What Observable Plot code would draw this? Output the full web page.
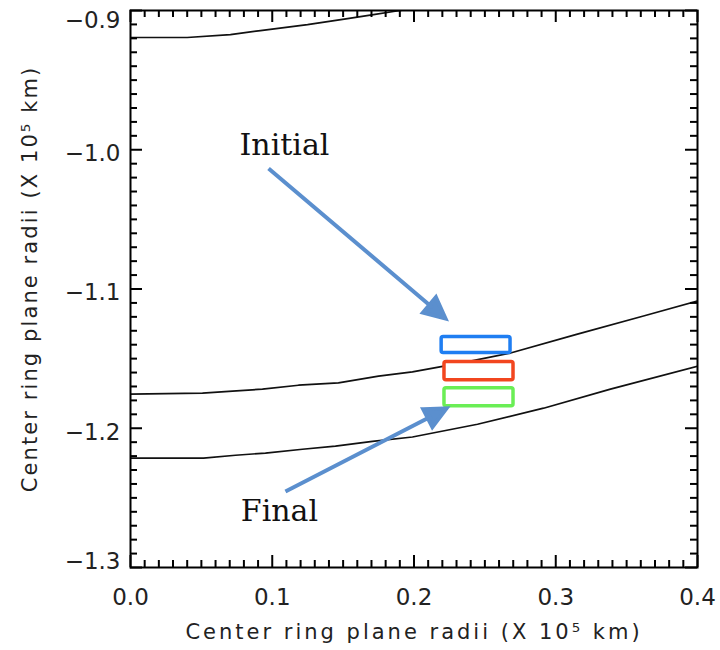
<!DOCTYPE html>
<html><head><meta charset="utf-8">
<script src="https://cdn.jsdelivr.net/npm/d3@7"></script>
<script src="https://cdn.jsdelivr.net/npm/@observablehq/plot@0.6"></script>
<style>html,body{margin:0;padding:0;background:#fff;} svg{display:block}</style>
</head><body><div id="chart"></div>
<script>
// ---- data ----
const curve1X = [0.000, 0.040, 0.0705, 0.0917, 0.1249, 0.1531, 0.1714, 0.1855, 0.2000];
const curve1Y = [-0.9194, -0.9194, -0.9173, -0.9144, -0.9101, -0.9058, -0.9029, -0.9007, -0.8985];
const curve2X = [0.000, 0.0508, 0.0720, 0.0931, 0.1185, 0.1467, 0.1750, 0.1989, 0.2328, 0.2681, 0.3153, 0.3619, 0.4000];
const curve2Y = [-1.1755, -1.1748, -1.1734, -1.1719, -1.1691, -1.1674, -1.1626, -1.1595, -1.1532, -1.1460, -1.1324, -1.1194, -1.1086];
const curve3X = [0.000, 0.0515, 0.0741, 0.0952, 0.1213, 0.1446, 0.1707, 0.1989, 0.2448, 0.2914, 0.3386, 0.4000];
const curve3Y = [-1.2214, -1.2214, -1.2194, -1.2178, -1.2151, -1.2129, -1.2094, -1.2063, -1.1971, -1.1856, -1.1719, -1.1554];

const boxNames = ["initial", "middle", "final"];
const boxX1 = [0.2195, 0.2215, 0.2215];
const boxX2 = [0.2681, 0.2702, 0.2702];
const boxY1 = [-1.1345, -1.1525, -1.1712];
const boxY2 = [-1.1460, -1.1655, -1.1842];

const noteLabels = ["Initial", "Final"];
const noteX = [0.1086, 0.1051];
const noteY = [-0.9969, -1.2598];
const arrowX1 = [0.0974, 0.1093];
const arrowY1 = [-1.0135, -1.2454];
const arrowX2 = [0.2222, 0.2229];
const arrowY2 = [-1.1212, -1.1858];

const xTicks = [0.0, 0.1, 0.2, 0.3, 0.4];
const yTicks = [-1.3, -1.2, -1.1, -1.0, -0.9];
const xLabel = "Center ring plane radii (X 10\u2075 km)";
const yLabel = "Center ring plane radii (X 10\u2075 km)";

// ---- styles ----
const boxColors = {initial: "#1f7ef2", middle: "#f2461f", final: "#6aee55"};
const arrowColor = "#5b8fce";
const W = 720, H = 650, mL = 130, mR = 23, mT = 10, mB = 83;
const xDomain = [0, 0.4], yDomain = [-1.3, -0.9];

// ---- tables ----
const curves = [];
[[curve1X, curve1Y, "c1"], [curve2X, curve2Y, "c2"], [curve3X, curve3Y, "c3"]].forEach(([xs, ys, id]) =>
  xs.forEach((x, i) => curves.push({id, x, y: ys[i]})));
const boxes = boxNames.map((name, i) => ({name, x1: boxX1[i], x2: boxX2[i], y1: boxY1[i], y2: boxY2[i]}));
const notes = noteLabels.map((t, i) => ({t, x: noteX[i], y: noteY[i]}));
const arrows = noteLabels.map((t, i) => ({t, x1: arrowX1[i], y1: arrowY1[i], x2: arrowX2[i], y2: arrowY2[i]}));

const xMinor = d3.range(0, 41).map(d => d / 100).filter(d => !xTicks.some(t => Math.abs(t - d) < 1e-9));
const yMinor = d3.range(-130, -89).map(d => d / 100).filter(d => !yTicks.some(t => Math.abs(t - d) < 1e-9));

const xs = Plot.scale({x: {domain: xDomain, range: [mL, W - mR]}});
const ys = Plot.scale({y: {domain: yDomain, range: [H - mB, mT]}});
const xAt = px => xs.invert(px), yAt = px => ys.invert(px);
const L = xs.apply(xDomain[0]), R = xs.apply(xDomain[1]);
const B = ys.apply(yDomain[0]), T = ys.apply(yDomain[1]);

// tick rows (length in px converted to data units through the scales)
const yTickRows = (vals, len) => vals.flatMap(v => [
  {v, a: xDomain[0], b: xAt(L + len)},
  {v, a: xAt(R - len), b: xDomain[1]}
]);
const xTickRows = (vals, len) => vals.flatMap(v => [
  {v, a: yDomain[0], b: yAt(B - len)},
  {v, a: yAt(T + len), b: yDomain[1]}
]);

const headShape = {
  draw(ctx, l) {
    const hl = 21, hw = 10;
    ctx.moveTo(0, 0); ctx.lineTo(0, -l + hl * 0.8);
    ctx.moveTo(-hw, -l + hl); ctx.lineTo(0, -l); ctx.lineTo(hw, -l + hl); ctx.closePath();
  }
};
const arrowMarks = arrows.map(a => {
  const dx = xs.apply(a.x2) - xs.apply(a.x1), dy = ys.apply(a.y2) - ys.apply(a.y1);
  return Plot.vector([a], {
    x: "x1", y: "y1", anchor: "start",
    length: Math.hypot(dx, dy), rotate: Math.atan2(dx, -dy) * 180 / Math.PI,
    shape: headShape, stroke: arrowColor, fill: arrowColor, strokeWidth: 4,
    strokeLinejoin: "miter", strokeLinecap: "butt"
  });
});

const fmt = d => d.toFixed(1).replace("-", "\u2212");
const tickFont = {fontFamily: "DejaVu Sans", fontSize: 23, fill: "#222"};
const tk = {stroke: "#000", strokeWidth: 2};

const chart = Plot.plot({
  width: W, height: H,
  marginLeft: mL, marginRight: mR, marginTop: mT, marginBottom: mB,
  x: {domain: xDomain, label: null},
  y: {domain: yDomain, label: null},
  style: {background: "#fff", color: "#111"},
  marks: [
    Plot.line(curves, {x: "x", y: "y", z: "id", stroke: "#111", strokeWidth: 1.7, clip: true}),
    Plot.rect(boxes, {x1: "x1", x2: "x2", y1: "y1", y2: "y2", fill: "#fff",
      stroke: d => boxColors[d.name], strokeWidth: 3.5, rx: 2}),
    ...arrowMarks,
    Plot.text(notes, {x: "x", y: "y", text: "t", fontFamily: "DejaVu Serif", fontSize: 30, fill: "#111"}),
    // inward ticks on all four sides
    Plot.ruleY(yTickRows(yMinor, 7), {y: "v", x1: "a", x2: "b", ...tk}),
    Plot.ruleY(yTickRows(yTicks, 12), {y: "v", x1: "a", x2: "b", ...tk}),
    Plot.ruleX(xTickRows(xMinor, 7), {x: "v", y1: "a", y2: "b", ...tk}),
    Plot.ruleX(xTickRows(xTicks, 12), {x: "v", y1: "a", y2: "b", ...tk}),
    // tick labels
    Plot.axisX(xTicks, {anchor: "bottom", tickSize: 0, tickPadding: 21, tickFormat: d => d.toFixed(1), label: null, ...tickFont}),
    Plot.axisY(yTicks.slice(1, -1), {anchor: "left", tickSize: 0, tickPadding: 10, tickFormat: fmt, label: null, dy: 4, ...tickFont}),
    Plot.axisY([yTicks[yTicks.length - 1]], {anchor: "left", tickSize: 0, tickPadding: 10, tickFormat: fmt, label: null, dy: 10, ...tickFont}),
    Plot.axisY([yTicks[0]], {anchor: "left", tickSize: 0, tickPadding: 10, tickFormat: fmt, label: null, dy: -6, ...tickFont}),
    // axis titles
    Plot.text([xLabel], {frameAnchor: "bottom", dy: 65, text: d => d, fontFamily: "DejaVu Sans", fontSize: 21,
      fill: "#222", lineAnchor: "middle", textAnchor: "middle"}),
    Plot.text([yLabel], {frameAnchor: "left", dx: -100, dy: -10, rotate: -90, text: d => d, fontFamily: "DejaVu Sans", fontSize: 21,
      fill: "#222", lineAnchor: "middle", textAnchor: "middle"}),
    Plot.frame({stroke: "#000", strokeWidth: 2})
  ]
});
chart.querySelectorAll("text").forEach(t => {
  if (t.textContent !== xLabel) return;
  const tr = (t.getAttribute("transform") || "") + (t.parentNode.getAttribute("transform") || "");
  t.style.letterSpacing = tr.includes("rotate") ? "2.1px" : "3px";
});
document.getElementById("chart").append(chart);
</script>
</body></html>
